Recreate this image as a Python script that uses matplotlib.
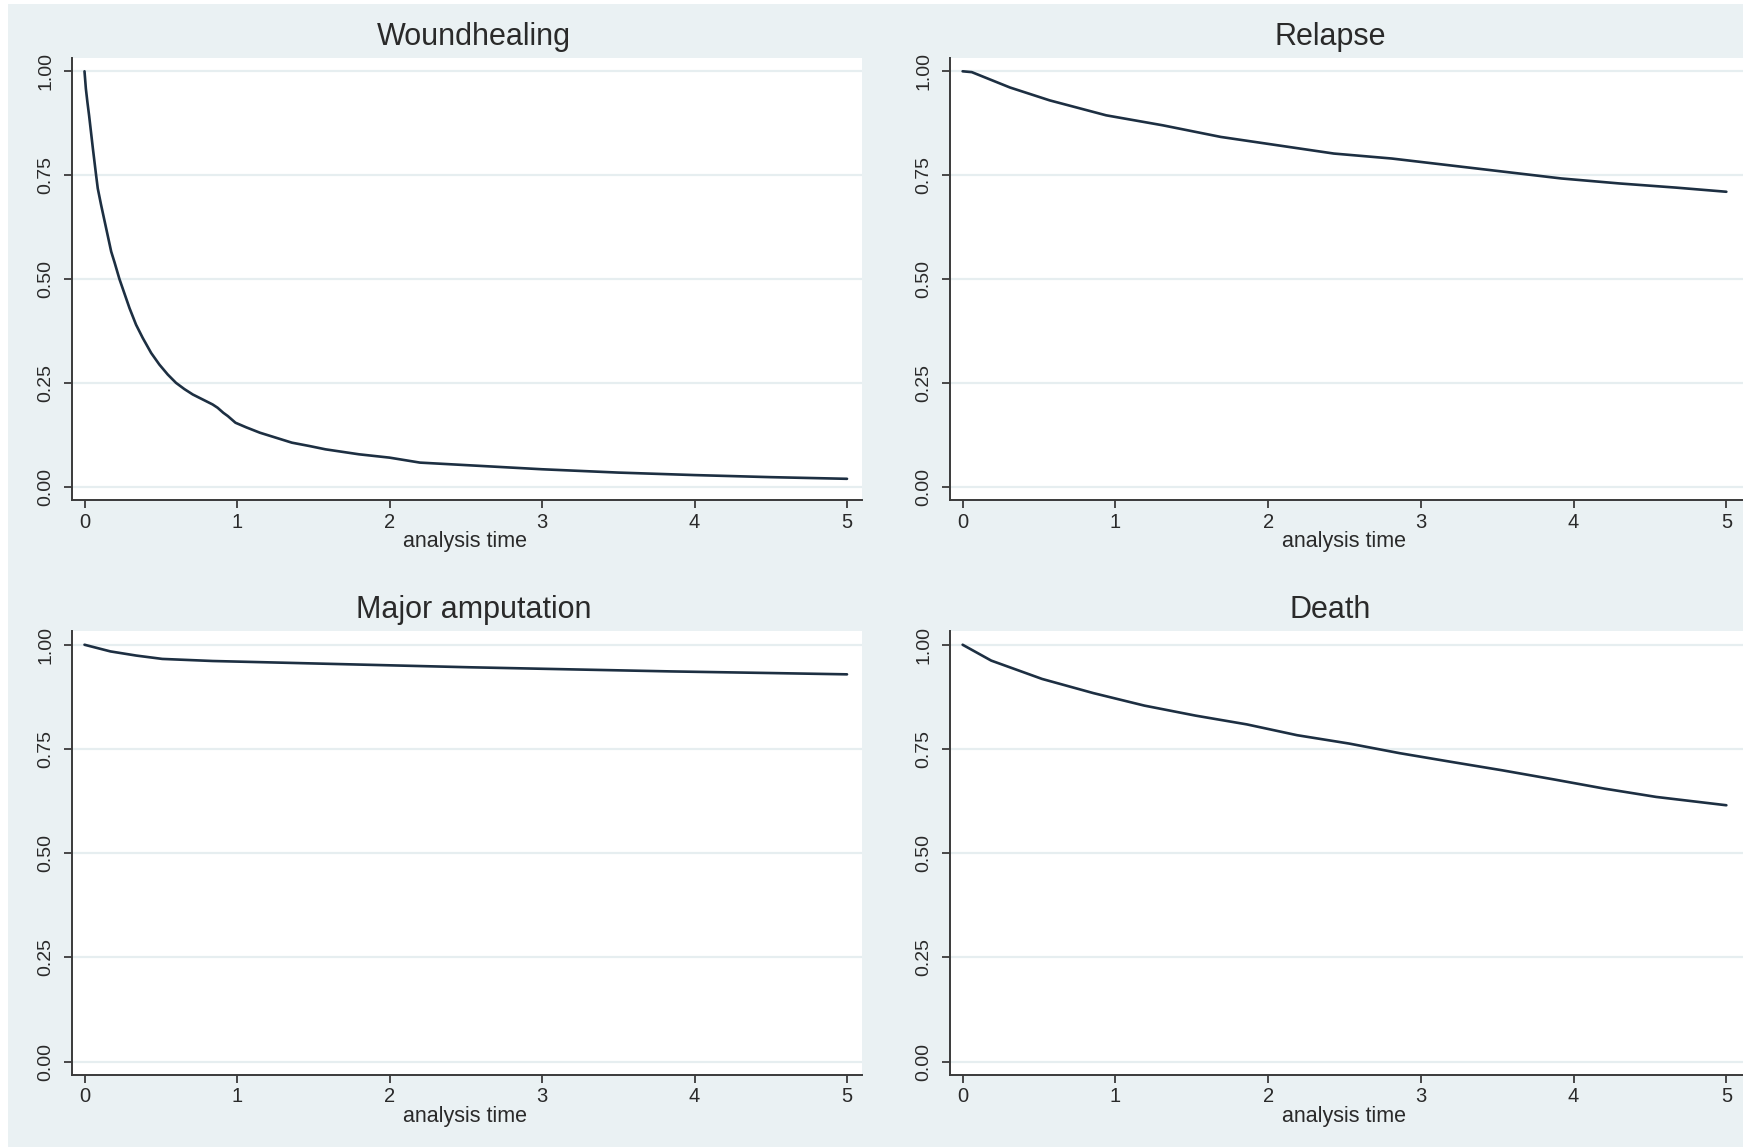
import matplotlib
matplotlib.use("Agg")
import matplotlib.pyplot as plt
from matplotlib.patches import Rectangle

plt.rcParams['font.family'] = ['Liberation Sans', 'DejaVu Sans']

# survival estimates (time in years)
wound_t = [0, 0.009, 0.019, 0.03, 0.055, 0.076, 0.087, 0.109, 0.142, 0.175, 0.197, 0.229,
           0.295, 0.338, 0.382, 0.437, 0.491, 0.546, 0.6, 0.655, 0.71, 0.775, 0.84, 0.873,
           0.91, 0.94, 0.99, 1.06, 1.15, 1.255, 1.36, 1.474, 1.58, 1.69, 1.8, 2.0, 2.2, 2.5,
           3.0, 3.5, 4.0, 4.5, 5.0]
wound_s = [1.0, 0.958, 0.926, 0.894, 0.814, 0.75, 0.718, 0.678, 0.622, 0.566, 0.54, 0.50,
           0.43, 0.39, 0.358, 0.322, 0.294, 0.27, 0.25, 0.235, 0.222, 0.21, 0.198, 0.19,
           0.178, 0.17, 0.154, 0.143, 0.13, 0.118, 0.106, 0.098, 0.09, 0.084, 0.078, 0.07,
           0.058, 0.052, 0.042, 0.034, 0.028, 0.023, 0.019]

relapse_t = [0, 0.06, 0.31, 0.57, 0.94, 1.31, 1.69, 2.06, 2.43, 2.81, 3.18, 3.55, 3.92, 4.3, 4.67, 5.0]
relapse_s = [1.0, 0.998, 0.961, 0.930, 0.894, 0.870, 0.842, 0.822, 0.802, 0.790, 0.774, 0.758,
             0.742, 0.730, 0.720, 0.710]

amput_t = [0, 0.17, 0.34, 0.51, 0.84, 1.18, 1.85, 2.52, 3.18, 3.85, 4.52, 5.0]
amput_s = [1.0, 0.984, 0.974, 0.966, 0.961, 0.958, 0.952, 0.946, 0.941, 0.936, 0.932, 0.929]

death_t = [0, 0.187, 0.52, 0.856, 1.19, 1.525, 1.86, 2.19, 2.53, 2.86, 3.2, 3.53, 3.87, 4.2, 4.54, 5.0]
death_s = [1.0, 0.962, 0.918, 0.884, 0.854, 0.830, 0.809, 0.783, 0.763, 0.740, 0.719, 0.699,
           0.677, 0.655, 0.635, 0.615]

titles = ["Woundhealing", "Relapse", "Major amputation", "Death"]
y_ticks = [0, 0.25, 0.5, 0.75, 1.0]
y_labels = ["0.00", "0.25", "0.50", "0.75", "1.00"]
x_ticks = [0, 1, 2, 3, 4, 5]

BG = '#EAF1F3'
LINE = '#1d2f42'
AXC = '#3a3a3a'

fig = plt.figure(figsize=(17.43, 11.47), dpi=100, facecolor='white')
fig.patches.append(Rectangle((8 / 1743, 0), 1, 1 - 4 / 1147, transform=fig.transFigure,
                             facecolor=BG, edgecolor='none', zorder=-1))

W, H = 1743, 1147
left_x = (72.3 / W, 789.2 / W)
right_x = (950.4 / W, 792.6 / W)
top_y = (1 - 500 / H, 442 / H)
bot_y = (1 - 1075 / H, 443.6 / H)

panels = [
    (left_x, top_y, wound_t, wound_s, 5.095, 0.509),
    (right_x, top_y, relapse_t, relapse_s, 5.109, 0.479),
    (left_x, bot_y, amput_t, amput_s, 5.095, 0.509),
    (right_x, bot_y, death_t, death_s, 5.109, 0.479),
]

for i, (px, py, t, s, xmax, tx) in enumerate(panels):
    ax = fig.add_axes([px[0], py[0], px[1], py[1]])
    ax.set_facecolor('white')
    ax.plot(t, s, color=LINE, lw=1.9, solid_joinstyle='round', solid_capstyle='round', zorder=3)
    ax.set_xlim(-0.08, xmax)
    ax.set_ylim(-0.032, 1.032)
    for yv in y_ticks:
        ax.axhline(yv, color='#E6EEF0', lw=1.6, zorder=1)
    ax.set_xticks(x_ticks)
    ax.set_yticks(y_ticks)
    ax.set_yticklabels(y_labels)
    for sp in ['top', 'right']:
        ax.spines[sp].set_visible(False)
    for sp in ['left', 'bottom']:
        ax.spines[sp].set_color(AXC)
        ax.spines[sp].set_linewidth(1.4)
    ax.tick_params(axis='both', direction='out', length=6, width=1.3, color=AXC,
                   labelsize=14.5, labelcolor='#2a2a2a')
    ax.tick_params(axis='x', pad=3)
    ax.tick_params(axis='y', pad=7, labelrotation=90, labelsize=14)
    for lbl in ax.get_yticklabels():
        lbl.set_va('center')
    ax.text(tx, 1.0475, titles[i], transform=ax.transAxes, ha='center', va='center',
            fontsize=22, color='#2a2a2a')
    ax.text(0.497, -0.093, "analysis time", transform=ax.transAxes, ha='center', va='center',
            fontsize=15.5, color='#2a2a2a')

fig.savefig("out.png", dpi=100, facecolor='white')
